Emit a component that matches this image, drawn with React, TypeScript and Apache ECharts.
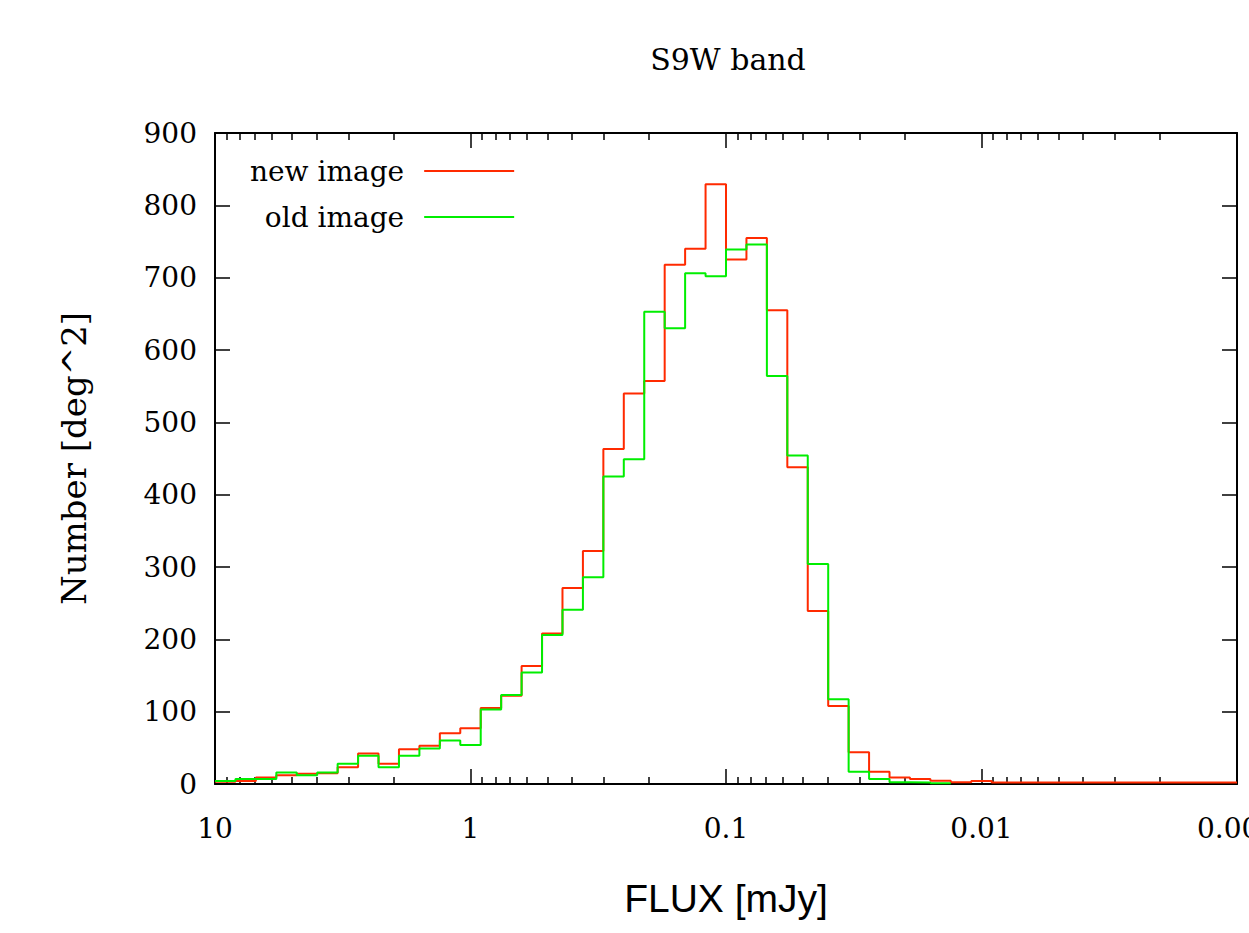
import React, { useEffect, useRef } from 'react';
import * as echarts from 'echarts';

// log10(flux [mJy]) bin edges, 0.08 dex wide, from 10 mJy down to 0.001 mJy
const binEdgesLog = [
  1.0, 0.92, 0.84, 0.76, 0.68, 0.6, 0.52, 0.44, 0.36, 0.28,
  0.2, 0.12, 0.04, -0.04, -0.12, -0.2, -0.28, -0.36, -0.44, -0.52,
  -0.6, -0.68, -0.76, -0.84, -0.92, -1.0, -1.08, -1.16, -1.24, -1.32,
  -1.4, -1.48, -1.56, -1.64, -1.72, -1.8, -1.88, -1.96, -2.04, -2.12,
  -2.2, -2.28, -2.36, -2.44, -2.52, -2.6, -2.68, -2.76, -2.84, -2.92,
  -3.0,
];

// counts per bin [deg^-2]
const newImage = [
  3, 4, 9, 12, 14, 15, 23, 42, 28, 48,
  53, 70, 77, 105, 122, 163, 208, 271, 322, 463,
  540, 557, 718, 740, 829, 725, 755, 655, 438, 239,
  108, 44, 17, 9, 7, 4.5, 2.5, 4, 2, 2,
  2, 2, 2, 2, 2, 2, 2, 2, 2, 2,
];
const oldImage = [
  4, 7, 7, 16, 12, 16, 28, 39, 23, 39,
  49, 60, 54, 103, 123, 154, 206, 241, 286, 425,
  449, 653, 630, 706, 702, 739, 746, 564, 454, 304,
  117, 17, 7, 2.5, 2, 1,
];

const majorTicksLog = [1, 0, -1, -2, -3];
const minorMantissas = [2, 3, 4, 5, 6, 7, 8, 9];
const decadeExponents = [0, -1, -2, -3];

const titleText = 'S9W band';
const xName = 'FLUX [mJy]';
const yName = 'Number [deg^2]';

const RED = '#ff2a00';
const GREEN = '#00ee00';
const SERIF = '"DejaVu Serif", serif';
const SANS = '"Liberation Sans", Arial, sans-serif';

function histSteps(edges: number[], vals: number[]) {
  const pts: [number, number][] = [];
  for (let k = 0; k < vals.length; k++) {
    pts.push([edges[k], vals[k]]);
    pts.push([edges[k + 1], vals[k]]);
  }
  return pts;
}

function fluxLabel(v: number) {
  const r = Math.round(v);
  if (r >= 0) return String(Math.pow(10, r));
  return Math.pow(10, r).toFixed(-r);
}

export default function App() {
  const ref = useRef<HTMLDivElement>(null);
  useEffect(() => {
    if (!ref.current) return;
    const chart = echarts.init(ref.current, undefined, { renderer: 'svg' });
    const minorTicks: number[] = [];
    decadeExponents.forEach((e) => minorMantissas.forEach((m) => minorTicks.push(Math.log10(m) + e)));

    const line = { color: '#000', width: 2 };
    const tickStyle = { color: '#000', width: 1.5 };
    const baseX = { type: 'value', min: -3, max: 1, interval: 1, inverse: true, splitLine: { show: false } };

    chart.setOption({
      animation: false,
      backgroundColor: '#fff',
      title: {
        text: titleText,
        left: 723,
        textAlign: 'center',
        top: 39,
        textStyle: { fontFamily: SERIF, fontSize: 30, fontWeight: 'normal', color: '#000' },
      },
      legend: {
        orient: 'vertical',
        left: 245,
        top: 152,
        align: 'right',
        icon: 'rect',
        itemWidth: 90,
        itemHeight: 2,
        itemGap: 18,
        textStyle: { fontFamily: SERIF, fontSize: 28, color: '#000', width: 158, align: 'right', padding: [0, 15, 0, 0] },
        data: [
          { name: 'new image', icon: 'rect', itemStyle: { color: RED } },
          { name: 'old image', icon: 'rect', itemStyle: { color: GREEN } },
        ],
      },
      grid: { left: 215, right: 12, top: 133, bottom: 149, containLabel: false, outerBoundsMode: 'none' },
      xAxis: [
        {
          ...baseX,
          position: 'bottom',
          axisLine: { show: true, onZero: false, lineStyle: line },
          axisTick: { show: true, inside: true, length: 15, lineStyle: tickStyle, customValues: majorTicksLog },
          axisLabel: { formatter: fluxLabel, margin: 30, fontFamily: SERIF, fontSize: 28, color: '#000', customValues: majorTicksLog },
          name: xName,
          nameLocation: 'middle',
          nameGap: 95,
          nameTextStyle: { fontFamily: SANS, fontSize: 39, color: '#000' },
        },
        {
          ...baseX,
          position: 'bottom',
          axisLine: { show: false, onZero: false },
          axisTick: { show: true, inside: true, length: 7, lineStyle: tickStyle, customValues: minorTicks },
          axisLabel: { show: false },
        },
        {
          ...baseX,
          position: 'top',
          axisLine: { show: true, onZero: false, lineStyle: line },
          axisTick: { show: true, inside: true, length: 15, lineStyle: tickStyle, customValues: majorTicksLog },
          axisLabel: { show: false },
        },
        {
          ...baseX,
          position: 'top',
          axisLine: { show: false, onZero: false },
          axisTick: { show: true, inside: true, length: 7, lineStyle: tickStyle, customValues: minorTicks },
          axisLabel: { show: false },
        },
      ],
      yAxis: [
        {
          type: 'value',
          min: 0,
          max: 900,
          interval: 100,
          position: 'left',
          splitLine: { show: false },
          axisLine: { show: true, onZero: false, lineStyle: line },
          axisTick: { show: true, inside: true, length: 15, lineStyle: tickStyle },
          axisLabel: { margin: 18, fontFamily: SERIF, fontSize: 28, color: '#000' },
          name: yName,
          nameLocation: 'middle',
          nameRotate: 90,
          nameGap: 124,
          nameTextStyle: { fontFamily: SERIF, fontSize: 34, color: '#000' },
        },
        {
          type: 'value',
          min: 0,
          max: 900,
          interval: 100,
          position: 'right',
          splitLine: { show: false },
          axisLine: { show: true, onZero: false, lineStyle: line },
          axisTick: { show: true, inside: true, length: 15, lineStyle: tickStyle },
          axisLabel: { show: false },
        },
      ],
      series: [
        {
          type: 'line',
          name: 'new image',
          xAxisIndex: 0,
          yAxisIndex: 0,
          data: histSteps(binEdgesLog, newImage),
          symbol: 'none',
          lineStyle: { color: RED, width: 2 },
          itemStyle: { color: RED },
        },
        {
          type: 'line',
          name: 'old image',
          xAxisIndex: 0,
          yAxisIndex: 0,
          data: histSteps(binEdgesLog, oldImage),
          symbol: 'none',
          lineStyle: { color: GREEN, width: 2 },
          itemStyle: { color: GREEN },
        },
      ],
    });
    return () => chart.dispose();
  }, []);
  return <div ref={ref} style={{ position: 'absolute', left: 0, top: 0, width: 1249, height: 933 }} />;
}
